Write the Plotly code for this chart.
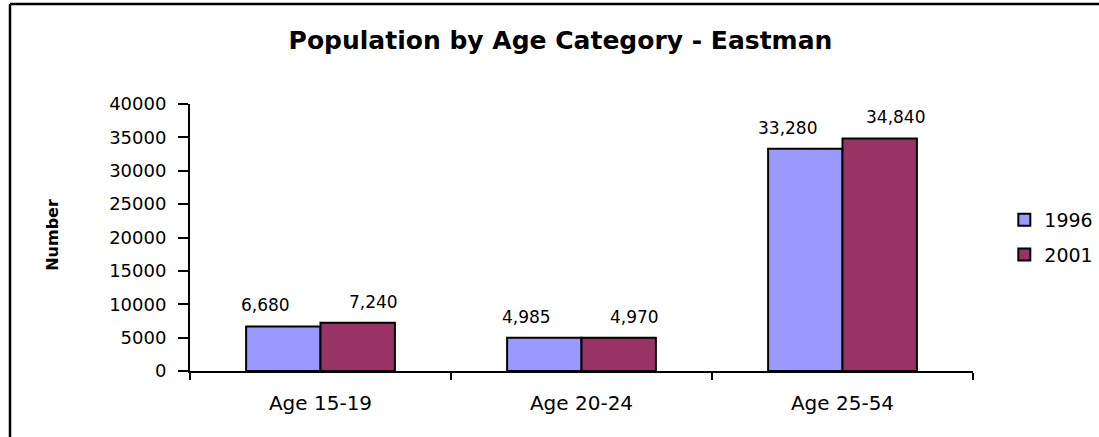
import plotly.graph_objects as go

categories = ["Age 15-19", "Age 20-24", "Age 25-54"]
series_names = ["1996", "2001"]
values_1996 = [6680, 4985, 33280]
values_2001 = [7240, 4970, 34840]
y_ticks = [0, 5000, 10000, 15000, 20000, 25000, 30000, 35000, 40000]
colors = ["#9999FF", "#993366"]
title_text = "Population by Age Category - Eastman"
y_title = "Number"

FONT = "DejaVu Sans, Liberation Sans, Arial, sans-serif"

fig = go.Figure()
for name, vals, col in zip(series_names, [values_1996, values_2001], colors):
    fig.add_trace(go.Bar(
        x=categories, y=vals, name=name, legendgroup=name,
        marker=dict(color=col, line=dict(color="black", width=2)),
    ))

# data labels
for vals, xs in [(values_1996, -55), (values_2001, 53)]:
    for c, v in zip(categories, vals):
        fig.add_annotation(x=c, y=v, text=f"{v:,}", showarrow=False,
                           xshift=xs, yshift=21, yanchor="middle",
                           font=dict(family=FONT, size=17, color="black"))

# y axis title
fig.add_annotation(xref="paper", yref="paper", x=-0.175, y=0.51, text=f"<b>{y_title}</b>",
                   textangle=-90, showarrow=False, xanchor="center", yanchor="middle",
                   font=dict(family=FONT, size=16, color="black"))

# chart border (left & top)
fig.add_shape(type="line", xref="paper", yref="paper",
              x0=(10 - 190) / 783, x1=(1110 - 190) / 783,
              y0=(371 - 4) / 267, y1=(371 - 4) / 267,
              line=dict(color="black", width=2.5))
fig.add_shape(type="line", xref="paper", yref="paper",
              x0=(10 - 190) / 783, x1=(10 - 190) / 783,
              y0=(371 - 4) / 267, y1=(371 - 450) / 267,
              line=dict(color="black", width=2.5))

fig.update_layout(
    width=1099, height=437,
    margin=dict(l=190, r=126, t=104, b=66, autoexpand=False),
    paper_bgcolor="white", plot_bgcolor="white",
    barmode="group", bargap=0.43, bargroupgap=0,
    font=dict(family=FONT, color="black"),
    title=dict(text=f"<b>{title_text}</b>", xref="container", yref="container",
               x=0.51, y=1 - 40 / 437, xanchor="center", yanchor="middle",
               font=dict(family=FONT, size=25, color="black")),
    legend=dict(x=1.04, y=0.5, xanchor="left", yanchor="middle",
                font=dict(family=FONT, size=19, color="black"),
                tracegroupgap=7),
    showlegend=True,
)
fig.update_xaxes(showline=True, linecolor="black", linewidth=2,
                 ticks="outside", tickson="boundaries", ticklen=7, tickwidth=2,
                 tickcolor="black", showgrid=False,
                 tickfont=dict(family=FONT, size=20, color="black"),
                 ticklabelstandoff=13)
fig.update_yaxes(range=[0, 40000], tickvals=y_ticks, ticktext=[str(t) for t in y_ticks],
                 showline=True, linecolor="black", linewidth=2,
                 ticks="outside", ticklen=10, tickwidth=2, tickcolor="black",
                 showgrid=False, zeroline=False,
                 tickfont=dict(family=FONT, size=18, color="black"),
                 ticklabelstandoff=8)

fig.write_html("out.html", config={"displayModeBar": False},
               post_script="document.body.style.margin='0';")
